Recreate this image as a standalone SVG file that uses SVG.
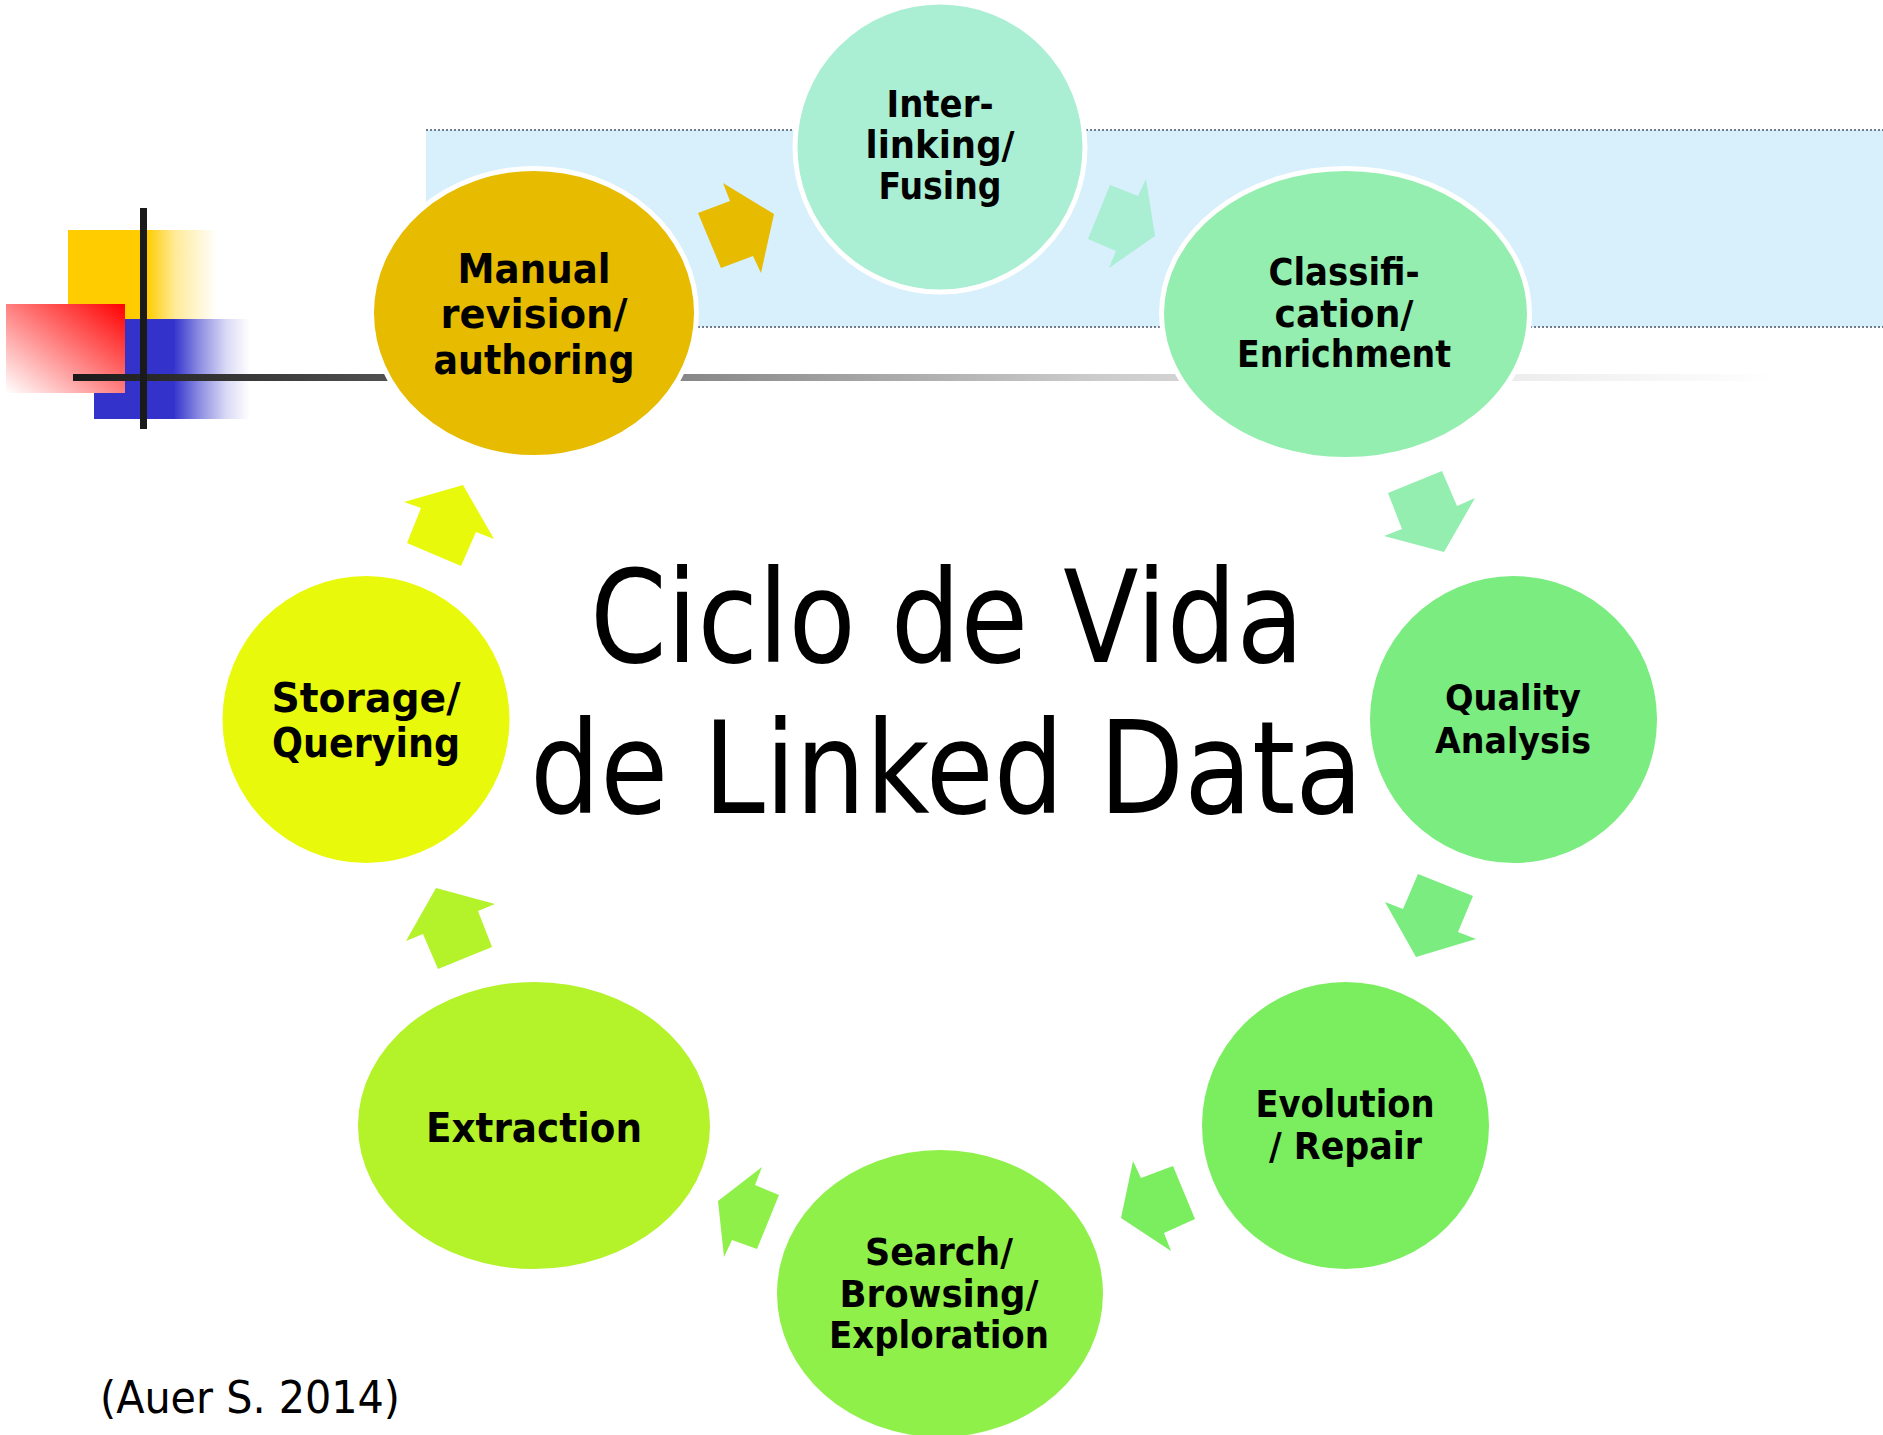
<svg xmlns="http://www.w3.org/2000/svg" width="1883" height="1435" viewBox="0 0 1883 1435">
<style>
.lbl{font-family:"DejaVu Sans","Liberation Sans",sans-serif;font-weight:bold;fill:#000;text-anchor:middle}
.ring{stroke:#fff;stroke-width:5}
.title{font-family:"DejaVu Sans","Liberation Sans",sans-serif;font-size:129px;fill:#000}
.cite{font-family:"DejaVu Sans","Liberation Sans",sans-serif;font-size:45px;fill:#000}
.dots{stroke:#6e7c8c;stroke-width:2;stroke-dasharray:2 2;fill:none}
</style>
<defs>
<linearGradient id="gY" x1="0" y1="0" x2="1" y2="0">
<stop offset="0" stop-color="#ffcc00"/><stop offset="0.53" stop-color="#ffcc00"/><stop offset="0.72" stop-color="#ffcc00" stop-opacity="0.4"/><stop offset="1" stop-color="#ffcc00" stop-opacity="0"/>
</linearGradient>
<linearGradient id="gB" x1="0" y1="0" x2="1" y2="0">
<stop offset="0" stop-color="#3333cc"/><stop offset="0.51" stop-color="#3333cc"/><stop offset="0.68" stop-color="#3333cc" stop-opacity="0.55"/><stop offset="0.85" stop-color="#3333cc" stop-opacity="0.18"/><stop offset="1" stop-color="#3333cc" stop-opacity="0"/>
</linearGradient>
<linearGradient id="gR" x1="1" y1="0" x2="0" y2="1">
<stop offset="0" stop-color="#ff0000"/><stop offset="1" stop-color="#ffffff"/>
</linearGradient>
<linearGradient id="gL" gradientUnits="userSpaceOnUse" x1="73" y1="0" x2="1780" y2="0">
<stop offset="0" stop-color="#1a1a1a"/><stop offset="0.183" stop-color="#505050"/><stop offset="0.367" stop-color="#8a8a8a"/><stop offset="0.6" stop-color="#cccccc"/><stop offset="0.854" stop-color="#eeeeee"/><stop offset="1" stop-color="#ffffff"/>
</linearGradient>
</defs>
<rect width="1883" height="1435" fill="#fff"/>
<g id="decoration">
<rect x="426" y="130" width="1457" height="197" fill="#d8effc"/>
<line class="dots" x1="426" y1="130" x2="1883" y2="130"/>
<line class="dots" x1="426" y1="327" x2="1883" y2="327"/>
<rect x="68" y="230" width="149" height="89" fill="url(#gY)"/>
<rect x="94" y="319" width="156" height="100" fill="url(#gB)"/>
<rect x="6" y="304" width="119" height="89" fill="url(#gR)"/>
<rect x="73" y="374" width="1707" height="7" fill="url(#gL)"/>
<rect x="140" y="208" width="7" height="221" fill="#1a1a1a"/>
</g>
<g id="connectors">
<polygon fill="#e6bb00" points="698,213 730,201 723,183 774,214 761,273 753,256 721,268"/>
<polygon fill="#aaeed4" points="1110,185 1138,196 1146,179 1155,236 1109,268 1116,251 1088,239"/>
<polygon fill="#93eeaf" points="1388,493 1442,471 1457,506 1475,498 1444,552 1384,536 1402,529"/>
<polygon fill="#7aec80" points="1418,874 1473,896 1458,932 1476,939 1416,957 1385,902 1403,909"/>
<polygon fill="#7aee5f" points="1173,1166 1195,1219 1164,1233 1171,1251 1121,1218 1133,1161 1141,1178"/>
<polygon fill="#8ff04a" points="779,1195 757,1249 732,1240 724,1257 718,1201 762,1167 755,1185"/>
<polygon fill="#b4f22a" points="492,947 438,969 423,934 406,941 436,888 495,904 478,911"/>
<polygon fill="#e8f90c" points="407,543 461,566 476,532 494,539 463,485 404,502 421,508"/>
</g>
<g id="manual">
<ellipse class="ring" cx="534" cy="313" rx="162.5" ry="144.5" fill="#e6bb00"/>
<text class="lbl" font-size="40" x="534" y="283" textLength="153" lengthAdjust="spacingAndGlyphs">Manual</text>
<text class="lbl" font-size="40" x="534" y="328" textLength="187" lengthAdjust="spacingAndGlyphs">revision/</text>
<text class="lbl" font-size="40" x="534" y="374" textLength="201" lengthAdjust="spacingAndGlyphs">authoring</text>
</g>
<g id="interlinking">
<ellipse class="ring" cx="940" cy="147" rx="145" ry="145" fill="#aaeed4"/>
<text class="lbl" font-size="37" x="940" y="117" textLength="107" lengthAdjust="spacingAndGlyphs">Inter-</text>
<text class="lbl" font-size="37" x="940" y="158" textLength="149" lengthAdjust="spacingAndGlyphs">linking/</text>
<text class="lbl" font-size="37" x="940" y="199" textLength="123" lengthAdjust="spacingAndGlyphs">Fusing</text>
</g>
<g id="classification">
<ellipse class="ring" cx="1345.5" cy="314" rx="184" ry="145.5" fill="#93eeaf"/>
<text class="lbl" font-size="37" x="1344" y="285" textLength="151" lengthAdjust="spacingAndGlyphs">Classifi-</text>
<text class="lbl" font-size="37" x="1344" y="327" textLength="139" lengthAdjust="spacingAndGlyphs">cation/</text>
<text class="lbl" font-size="37" x="1344" y="367" textLength="214" lengthAdjust="spacingAndGlyphs">Enrichment</text>
</g>
<g id="quality">
<circle cx="1513.5" cy="719.5" r="143.5" fill="#7aec80"/>
<text class="lbl" font-size="36" x="1513" y="710" textLength="136" lengthAdjust="spacingAndGlyphs">Quality</text>
<text class="lbl" font-size="36" x="1513" y="753" textLength="156" lengthAdjust="spacingAndGlyphs">Analysis</text>
</g>
<g id="evolution">
<circle cx="1345.5" cy="1125.5" r="143.5" fill="#7aee5f"/>
<text class="lbl" font-size="37" x="1345" y="1117" textLength="179" lengthAdjust="spacingAndGlyphs">Evolution</text>
<text class="lbl" font-size="37" x="1345.5" y="1159" textLength="153" lengthAdjust="spacingAndGlyphs">/ Repair</text>
</g>
<g id="search">
<ellipse cx="940" cy="1293.5" rx="163" ry="143.5" fill="#8ff04a"/>
<text class="lbl" font-size="37" x="939" y="1265" textLength="148" lengthAdjust="spacingAndGlyphs">Search/</text>
<text class="lbl" font-size="37" x="939" y="1307" textLength="199" lengthAdjust="spacingAndGlyphs">Browsing/</text>
<text class="lbl" font-size="37" x="939" y="1348" textLength="220" lengthAdjust="spacingAndGlyphs">Exploration</text>
</g>
<g id="extraction">
<ellipse cx="534" cy="1125.5" rx="176" ry="143.5" fill="#b4f22a"/>
<text class="lbl" font-size="41" x="534" y="1142" textLength="216" lengthAdjust="spacingAndGlyphs">Extraction</text>
</g>
<g id="storage">
<circle cx="366" cy="719.5" r="143.5" fill="#e8f90c"/>
<text class="lbl" font-size="41" x="366" y="712" textLength="189" lengthAdjust="spacingAndGlyphs">Storage/</text>
<text class="lbl" font-size="41" x="366" y="757" textLength="188" lengthAdjust="spacingAndGlyphs">Querying</text>
</g>
<g id="title">
<text class="title" x="590" y="662" textLength="714" lengthAdjust="spacingAndGlyphs">Ciclo de Vida</text>
<text class="title" x="530" y="813" textLength="833" lengthAdjust="spacingAndGlyphs">de Linked Data</text>
</g>
<g id="citation">
<text class="cite" x="100" y="1413" textLength="300" lengthAdjust="spacingAndGlyphs">(Auer S. 2014)</text>
</g>
</svg>
